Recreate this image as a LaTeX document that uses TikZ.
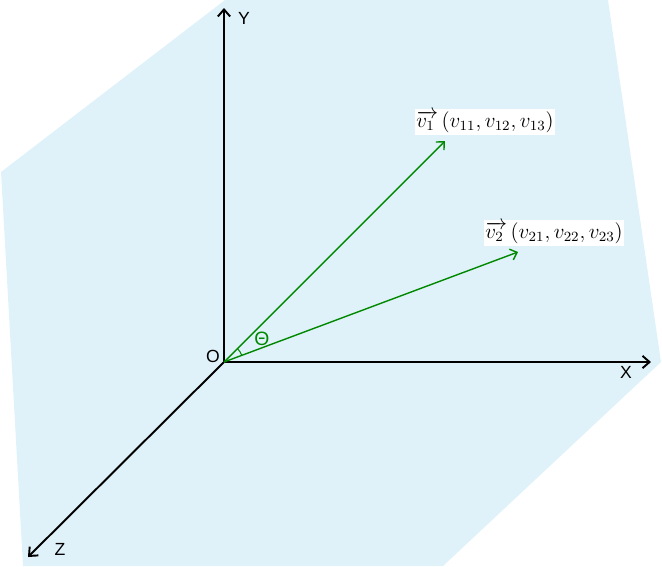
\documentclass[tikz,border=0pt]{standalone}
\usepackage{amsmath}
\usepackage{fontspec}
\setsansfont{Liberation Sans}
\usetikzlibrary{arrows.meta}
\definecolor{planeblue}{RGB}{223,242,249}
\definecolor{vecgreen}{RGB}{0,136,0}

\begin{document}
\begin{tikzpicture}[
      x=0.02cm, y=-0.02cm,
      axis/.style={line width=1.1pt, -{Straight Barb[length=4pt,width=7pt]}},
      vec/.style={vecgreen, line width=0.8pt, -{Straight Barb[length=3.5pt,width=6.5pt]}},
      axislabel/.style={font=\sffamily\fontsize{10}{12}\selectfont},
      veclabel/.style={fill=white, inner sep=1pt, font=\fontsize{11.5}{13}\selectfont}
    ]
    \useasboundingbox (0,0) rectangle (662,566);

    % Plane
    \fill[planeblue] (225,0) -- (608,0) -- (661,362) -- (443,566)
      -- (23,566) -- (1,172) -- cycle;

    % Origin and axis ends
    \coordinate (O) at (224,362);
    \coordinate (xend) at (651,362);
    \coordinate (yend) at (224,8);
    \coordinate (zend) at (28,557);

    % Vector ends
    \coordinate (v1end) at (445,141);
    \coordinate (v2end) at (518,252);

    % Axes
    \draw[axis] (O) -- (xend);
    \draw[axis] (O) -- (yend);
    \draw[axis] (O) -- (zend);

    % Axis labels
    \node[axislabel] (olabel) at (213,356) {O};
    \node[axislabel] (xlabel) at (626,372) {X};
    \node[axislabel] (ylabel) at (244,18) {Y};
    \node[axislabel] (zlabel) at (60,549) {Z};

    % Vectors
    \draw[vec] (O) -- (v1end);
    \draw[vec] (O) -- (v2end);

    % Angle
    \draw[vecgreen, line width=0.6pt] (O) ++(-20.5:19) arc (-20.5:-45:19);
    \node[axislabel, text=vecgreen, font=\sffamily\fontsize{11}{13}\selectfont] (theta) at (262,339) {Θ};

    % Vector labels
    \node[veclabel] (v1label) at (485,122)
      {$\overrightarrow{v_1\,}\,(v_{11},v_{12},v_{13})$};
    \node[veclabel] (v2label) at (554,233)
      {$\overrightarrow{v_2\,}\,(v_{21},v_{22},v_{23})$};
  \end{tikzpicture}
\end{document}
